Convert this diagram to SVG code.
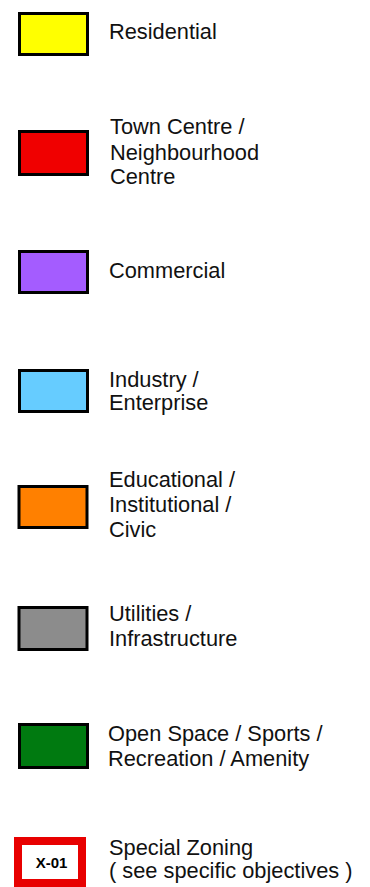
<svg xmlns="http://www.w3.org/2000/svg" width="370" height="887" viewBox="0 0 370 887">
<style>
.sw{stroke:#000;stroke-width:3}
.t{font-family:"Liberation Sans",Arial,sans-serif;font-size:21.8px;fill:#111}
.b{font-family:"Liberation Sans",Arial,sans-serif;font-size:15px;font-weight:bold;fill:#000}
</style>
<rect width="370" height="887" fill="#fff"/>
<g id="residential">
<rect class="sw" x="19.5" y="13.5" width="68" height="41" fill="#FFFF00"/>
<text class="t" x="109" y="39">Residential</text>
</g>
<g id="town-centre">
<rect class="sw" x="19.5" y="131.5" width="68" height="43" fill="#F00000"/>
<text class="t" x="110" y="134">Town Centre /</text>
<text class="t" x="110" y="160">Neighbourhood</text>
<text class="t" x="110" y="184">Centre</text>
</g>
<g id="commercial">
<rect class="sw" x="19.5" y="251.5" width="68" height="41" fill="#A45CFF"/>
<text class="t" x="109" y="278">Commercial</text>
</g>
<g id="industry">
<rect class="sw" x="19.5" y="370.5" width="68" height="41" fill="#66CCFF"/>
<text class="t" x="109" y="387">Industry /</text>
<text class="t" x="109" y="410">Enterprise</text>
</g>
<g id="educational">
<rect class="sw" x="19" y="486.5" width="68" height="41" fill="#FF8000"/>
<text class="t" x="109" y="487">Educational /</text>
<text class="t" x="109" y="512">Institutional /</text>
<text class="t" x="109" y="537">Civic</text>
</g>
<g id="utilities">
<rect class="sw" x="19" y="607.5" width="68" height="42" fill="#8C8C8C"/>
<text class="t" x="109" y="621">Utilities /</text>
<text class="t" x="109" y="646">Infrastructure</text>
</g>
<g id="open-space">
<rect class="sw" x="19.5" y="724.5" width="68" height="43" fill="#007A10"/>
<text class="t" x="108" y="741">Open Space / Sports /</text>
<text class="t" x="108" y="766">Recreation / Amenity</text>
</g>
<g id="special-zoning">
<rect x="18" y="841" width="64" height="42" fill="#fff" stroke="#E80000" stroke-width="8"/>
<text class="b" x="51.5" y="867.5" text-anchor="middle">X-01</text>
<text class="t" x="109" y="855">Special Zoning</text>
<text class="t" x="109" y="878">( see specific objectives )</text>
</g>
</svg>
